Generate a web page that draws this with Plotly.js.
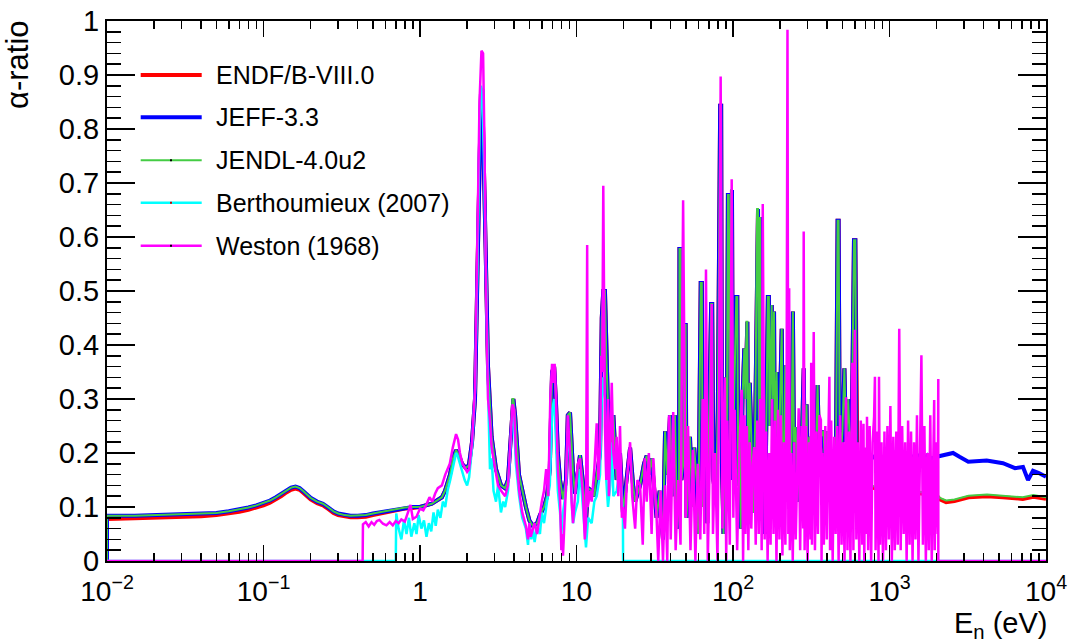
<!DOCTYPE html>
<html><head><meta charset="utf-8">
<script src="https://cdn.plot.ly/plotly-3.0.1.min.js"></script>
<style>html,body{margin:0;padding:0;background:#fff}#chart{width:1069px;height:642px}</style>
</head><body><div id="chart"></div>
<script>
// ---------------- DATA (energies in eV, alpha-ratio values) ----------------
const seriesNames = ["ENDF/B-VIII.0", "JEFF-3.3", "JENDL-4.0u2", "Berthoumieux (2007)", "Weston (1968)"];

// Thermal region (0.01 - 1 eV) of the evaluations
const thermalE     = [0.01,0.01,0.015,0.02,0.03,0.04,0.05,0.06,0.07,0.08,0.09,0.1,0.11,0.12,0.13,0.14,0.15,0.16,0.17,0.18,0.19,0.2,0.22,0.24,0.26,0.28,0.3,0.33,0.36,0.4,0.45,0.5,0.6,0.7,0.8,0.9];
const endfThermal  = [0,0.078,0.079,0.080,0.081,0.083,0.085,0.088,0.091,0.095,0.099,0.103,0.108,0.114,0.120,0.127,0.132,0.134,0.132,0.126,0.120,0.114,0.107,0.103,0.096,0.089,0.085,0.082,0.081,0.081,0.082,0.085,0.090,0.094,0.097,0.098];
const jeffThermal  = [0,0.084,0.084,0.085,0.086,0.088,0.089,0.092,0.095,0.099,0.103,0.107,0.112,0.118,0.124,0.131,0.136,0.138,0.135,0.129,0.123,0.117,0.110,0.106,0.099,0.092,0.088,0.085,0.084,0.084,0.085,0.088,0.092,0.096,0.099,0.100];
const jendlThermal = [0,0.084,0.084,0.085,0.086,0.088,0.089,0.092,0.095,0.099,0.103,0.107,0.112,0.118,0.124,0.131,0.136,0.138,0.135,0.129,0.123,0.117,0.110,0.106,0.099,0.092,0.088,0.085,0.084,0.084,0.085,0.088,0.092,0.096,0.099,0.100];

// Resolved resonance region (1 - 615 eV), common to the three evaluations
const evalResonance = [[1.0,0.100],[1.19,0.106],[1.38,0.118],[1.445,0.13],[1.555,0.16],[1.625,0.19],[1.70,0.205],[1.776,0.195],[1.855,0.18],[1.966,0.172],[2.056,0.178],[2.149,0.22],[2.246,0.30],[2.333,0.55],[2.399,0.78],[2.454,0.87],[2.50,0.87],[2.56,0.76],[2.626,0.58],[2.72,0.36],[2.868,0.23],[3.06,0.17],[3.294,0.14],[3.49,0.135],[3.65,0.15],[3.785,0.22],[3.90,0.30],[3.95,0.30],[4.05,0.27],[4.29,0.16],[4.75,0.10],[5.0,0.075],[5.27,0.065],[5.6,0.07],[5.84,0.085],[6.2,0.10],[6.48,0.12],[6.75,0.17],[6.98,0.35],[7.2,0.36],[7.40,0.29],[7.6,0.20],[7.85,0.15],[8.20,0.115],[8.57,0.15],[8.8,0.27],[9.09,0.275],[9.3,0.20],[9.50,0.165],[9.78,0.125],[10.2,0.17],[10.53,0.196],[11.0,0.145],[11.5,0.075],[11.85,0.135],[12.5,0.13],[13.0,0.12],[13.46,0.16],[14.13,0.2],[14.5,0.45],[14.83,0.50],[15.2,0.50],[15.5,0.38],[15.9,0.28],[16.4,0.17],[16.8,0.22],[17.2,0.27],[18.06,0.15],[18.97,0.20],[19.8,0.09],[20.8,0.15],[22.0,0.21],[23.0,0.14],[23.7,0.11],[25.5,0.14],[27.0,0.18],[28.1,0.195],[29.0,0.16],[30.2,0.19],[31.5,0.12],[32.5,0.08],[34.0,0.13],[35.7,0.04],[36.8,0.24],[38.0,0.16],[39.6,0.27],[41.0,0.12],[42.6,0.27],[44.0,0.06],[45.2,0.12],[45.5,0.578],[46.3,0.578],[46.8,0.15],[48.1,0.18],[49.0,0.437],[49.8,0.437],[50.5,0.08],[53.1,0.23],[55.0,0.10],[56.5,0.21],[58.6,0.146],[60.0,0.05],[61.5,0.30],[62.2,0.515],[63.2,0.515],[64.0,0.10],[66.0,0.22],[67.2,0.30],[68.5,0.07],[70.0,0.20],[72.5,0.476],[73.6,0.476],[75.0,0.15],[77.9,0.113],[80.0,0.28],[82.8,0.843],[84.0,0.843],[85.0,0.18],[87.0,0.05],[89.0,0.34],[91.0,0.12],[92.8,0.678],[94.0,0.678],[95.5,0.20],[97.3,0.687],[98.5,0.687],[100,0.15],[102,0.32],[105,0.489],[106.5,0.489],[108,0.14],[110,0.25],[112,0.06],[115,0.30],[118.1,0.394],[120,0.30],[122,0.443],[123.5,0.443],[125,0.13],[128,0.33],[131.6,0.21],[135,0.09],[139,0.28],[142.5,0.652],[144.5,0.652],[146.5,0.2],[148.8,0.637],[150.5,0.25],[153,0.12],[157,0.27],[160,0.05],[164,0.30],[167,0.489],[169.5,0.489],[171,0.25],[176.8,0.474],[178.5,0.30],[182.9,0.462],[185,0.19],[190,0.35],[195,0.12],[200,0.3],[204.8,0.43],[208,0.20],[213,0.15],[215.6,0.362],[218,0.22],[223,0.13],[228,0.25],[234,0.10],[241.4,0.462],[245,0.22],[251.6,0.248],[258,0.11],[264,0.20],[270,0.12],[276,0.26],[283,0.357],[288,0.15],[295,0.29],[300,0.13],[307,0.23],[316,0.17],[322,0.28],[328,0.20],[336,0.14],[347,0.326],[356,0.19],[365,0.23],[378.6,0.241],[390,0.16],[400,0.24],[413,0.20],[420,0.14],[430.5,0.204],[440,0.18],[455,0.20],[466,0.63],[473,0.63],[480,0.26],[490,0.20],[500,0.24],[515,0.357],[528,0.22],[545,0.30],[560,0.20],[575,0.25],[593,0.594],[605,0.594],[615,0.20]];

// Unresolved region (625 eV - 10 keV)
const jeffHigh  = [[625,0.193],[680,0.188],[740,0.197],[785,0.192],[850,0.199],[900,0.19],[960,0.2],[1052,0.202],[1100,0.189],[1150,0.198],[1219,0.198],[1280,0.188],[1352,0.187],[1450,0.196],[1567,0.195],[1650,0.188],[1750,0.196],[1850,0.19],[2003,0.193],[2300,0.197],[2547,0.2],[2800,0.193],[3187,0.184],[4178,0.186],[5311,0.181],[6339,0.172],[7129,0.174],[7674,0.15],[8260,0.167],[9000,0.163],[10000,0.156]];
const endfHigh  = [[625,0.15],[700,0.14],[800,0.135],[1000,0.13],[1300,0.128],[1600,0.125],[2000,0.121],[2100,0.114],[2300,0.109],[2600,0.111],[3200,0.118],[4200,0.12],[5300,0.118],[6300,0.117],[7100,0.115],[8300,0.119],[10000,0.115]];
const jendlHigh = [[625,0.153],[700,0.143],[800,0.138],[1000,0.133],[1300,0.131],[1600,0.128],[2000,0.124],[2100,0.117],[2300,0.112],[2600,0.114],[3200,0.121],[4200,0.123],[5300,0.121],[6300,0.12],[7100,0.118],[8300,0.122],[10000,0.118]];

// Berthoumieux (2007)
const berthoumieux = [[0.01,0],[0.70,0],[0.705,0.088],[0.73,0.06],[0.76,0.04],[0.79,0.075],[0.82,0.05],[0.85,0.08],[0.88,0.045],[0.92,0.07],[0.95,0.05],[0.98,0.085],[1.02,0.06],[1.06,0.075],[1.1,0.045],[1.14,0.07],[1.18,0.055],[1.22,0.09],[1.26,0.065],[1.3,0.095],[1.35,0.08],[1.4,0.11],[1.45,0.1],[1.5,0.13],[1.56,0.15],[1.62,0.175],[1.7,0.20],[1.74,0.195],[1.8,0.18],[1.86,0.17],[1.93,0.15],[2.0,0.14],[2.06,0.155],[2.15,0.21],[2.25,0.32],[2.33,0.55],[2.40,0.80],[2.45,0.88],[2.5,0.87],[2.56,0.75],[2.63,0.55],[2.72,0.32],[2.8,0.17],[2.87,0.19],[2.95,0.13],[3.06,0.11],[3.15,0.14],[3.29,0.09],[3.4,0.11],[3.5,0.10],[3.65,0.13],[3.78,0.22],[3.9,0.28],[4.0,0.25],[4.1,0.18],[4.3,0.12],[4.5,0.08],[4.75,0.06],[4.9,0.03],[5.0,0.07],[5.15,0.04],[5.27,0.06],[5.4,0.035],[5.6,0.065],[5.84,0.05],[6.0,0.09],[6.2,0.07],[6.48,0.11],[6.75,0.14],[7.0,0.28],[7.2,0.30],[7.4,0.22],[7.6,0.13],[7.85,0.09],[8.0,0.05],[8.2,0.09],[8.57,0.13],[8.8,0.24],[9.09,0.2],[9.3,0.12],[9.5,0.07],[9.78,0.09],[10.2,0.11],[10.53,0.17],[11.0,0.10],[11.5,0.025],[11.85,0.08],[12.5,0.07],[13.0,0.11],[13.46,0.12],[14.13,0.16],[14.5,0.30],[14.83,0.34],[15.2,0.30],[15.5,0.15],[15.9,0.1],[16.4,0.14],[16.8,0.22],[17.2,0.12],[18.06,0.13],[18.97,0.17],[19.5,0.10],[19.8,0.08],[19.85,0],[10000,0]];

// Weston (1968)
const weston = [[0.01,0],[0.43,0],[0.432,0.068],[0.45,0.072],[0.47,0.064],[0.49,0.072],[0.51,0.067],[0.53,0.074],[0.55,0.076],[0.58,0.069],[0.61,0.066],[0.64,0.072],[0.67,0.066],[0.70,0.074],[0.73,0.07],[0.76,0.077],[0.80,0.073],[0.84,0.09],[0.87,0.104],[0.9,0.078],[0.95,0.082],[1.0,0.097],[1.05,0.094],[1.1,0.105],[1.15,0.118],[1.2,0.11],[1.25,0.125],[1.3,0.135],[1.38,0.14],[1.45,0.16],[1.55,0.18],[1.62,0.21],[1.70,0.235],[1.75,0.225],[1.8,0.2],[1.87,0.18],[1.95,0.17],[2.0,0.165],[2.06,0.17],[2.15,0.22],[2.25,0.32],[2.33,0.6],[2.40,0.85],[2.47,0.945],[2.53,0.94],[2.58,0.78],[2.63,0.55],[2.72,0.30],[2.8,0.26],[2.87,0.21],[3.0,0.18],[3.15,0.14],[3.3,0.13],[3.5,0.12],[3.65,0.14],[3.78,0.23],[3.9,0.29],[4.0,0.28],[4.1,0.2],[4.3,0.13],[4.5,0.09],[4.75,0.065],[4.9,0.04],[5.0,0.07],[5.1,0.045],[5.27,0.06],[5.4,0.07],[5.6,0.05],[5.84,0.09],[6.0,0.11],[6.2,0.13],[6.4,0.17],[6.6,0.12],[6.8,0.30],[6.98,0.365],[7.1,0.33],[7.25,0.365],[7.4,0.30],[7.6,0.17],[7.85,0.11],[8.0,0.02],[8.1,0.05],[8.2,0.01],[8.4,0.09],[8.57,0.14],[8.8,0.27],[9.09,0.20],[9.3,0.11],[9.5,0.07],[9.78,0.12],[10.2,0.18],[10.53,0.19],[11.0,0.12],[11.3,0.04],[11.5,0.07],[11.7,0.585],[11.8,0.10],[12.2,0.13],[12.5,0.11],[13.0,0.17],[13.46,0.255],[13.8,0.15],[14.13,0.21],[14.4,0.38],[14.6,0.35],[14.83,0.695],[15.0,0.45],[15.2,0.25],[15.5,0.15],[15.9,0.30],[16.1,0.12],[16.4,0.20],[16.8,0.33],[17.2,0.2],[17.6,0.17],[18.06,0.23],[18.5,0.12],[18.97,0.25],[19.5,0.08],[19.8,0.1],[20.4,0.06],[21.0,0.15],[22.0,0.22],[22.7,0.12],[23.7,0.06],[24.5,0.15],[25.5,0.14],[26.5,0.03],[27.3,0.19],[28.1,0.11],[29.0,0.20],[30.2,0.05],[31.0,0.19],[32.5,0.08],[33.3,0.0],[34.5,0.13],[35.7,0.0],[36.8,0.14],[38.0,0.0],[39.0,0.27],[40,0.04],[41.5,0.276],[43,0.02],[44.6,0.15],[46.2,0.03],[48,0.668],[49.8,0.08],[51.6,0.25],[53.5,0.02],[55.5,0.206],[57.5,0.0],[59.6,0.18],[61.8,0.04],[64,0.30],[65.5,0.05],[67.2,0.54],[69,0.0],[71.4,0.22],[73.1,0.476],[74.5,0.05],[76.8,0.20],[79.6,0.0],[81.5,0.32],[83.4,0.897],[85.6,0.06],[88.7,0.34],[90.5,0.0],[92,0.26],[95.4,0.03],[98.1,0.707],[100.5,0.08],[102.5,0.28],[106.3,0.02],[110.2,0.22],[113.7,0.317],[116,0.0],[118.5,0.27],
 [120,0.05],[122.6,0.25],[125.3,0.02],[128,0.22],[130.9,0.06],[133.8,0.18],[136.7,0.211],[139.7,0.03],[142.8,0.26],[146,0.05],[149.2,0.30],[152.5,0.02],[154.9,0.661],[159.3,0.04],[162.8,0.24],[166.4,0.0],[170,0.2],[173.8,0.03],[177.6,0.30],[181.5,0.05],[185.5,0.26],[189.6,0.0],[193.8,0.28],[198,0.04],[202.4,0.27],[206.9,0.01],[211.4,0.22],[216.1,0.03],[220,0.30],[222.9,0.984],[225.7,0.05],[228.5,0.505],[230.7,0.02],[235.7,0.2],[240.9,0.0],[246.2,0.22],[251.6,0.04],[257.2,0.2],[262.8,0.283],[268.6,0.02],[274.5,0.25],[280.6,0.06],[283,0.61],[286.8,0.02],[293.1,0.25],[299.5,0.0],[306.1,0.22],[312.8,0.04],[316,0.367],[319.7,0.03],[324,0.18],[328,0.424],[333.9,0.02],[341.3,0.24],[348.8,0.05],[356.5,0.27],[364.3,0.261],[368,0.0],[372.3,0.2],[380.5,0.03],[388.9,0.25],[397.4,0.04],[406.2,0.22],[413,0.341],[417,0.02],[424.2,0.26],[433.5,0.0],[443.1,0.23],[452.8,0.05],[462.8,0.25],[473,0.0],[483.4,0.27],[494,0.03],[504.9,0.22],[516,0.0],[527.3,0.303],[538.9,0.02],[550.8,0.24],[562.9,0.0],[570,0.26],[579,0.367],[587.9,0.02],[600.9,0.428],[614.1,0.04],[627.6,0.22],[641.4,0.0],[655.5,0.26],[669.9,0.03],[682,0.254],[690,0.0],[699.7,0.21],[715.1,0.05],[718,0.267],[730.8,0.02],[746.9,0.25],[763.3,0.0],[780.1,0.22],[797.3,0.267],[807,0.341],[814.8,0.02],[832.7,0.24],[851,0.0],[857,0.341],[869.8,0.03],[888.9,0.22],[908.5,0.0],[928.5,0.24],[948.9,0.02],[969.8,0.25],[991.1,0.04],[1013,0.287],[1035,0.0],[1058,0.23],[1081,0.02],[1105,0.24],[1129,0.03],[1154,0.43],[1179,0.02],[1205,0.25],[1232,0.05],[1259,0.22],[1287,0.0],[1315,0.26],[1344,0.03],[1373,0.24],[1404,0.0],[1435,0.22],[1466,0.04],[1498,0.27],[1531,0.0],[1565,0.24],[1599,0.381],[1635,0.03],[1671,0.25],[1707,0.0],[1745,0.2],[1783,0.02],[1822,0.27],[1862,0.0],[1903,0.23],[1930,0.298],[1945,0.02],[1988,0.22],[2032,0.05],[2050,0.337],[2051,0.0],[10000,0]];

// ---------------- BUILD TRACES ----------------
const xs = a => a.map(p => p[0]);
const ys = a => a.map(p => p[1]);
const resE = xs(evalResonance), resY = ys(evalResonance);

function evalTrace(thY, high, color, width, name) {
  return {
    type: 'scatter', mode: 'lines', name: name, showlegend: false, hoverinfo: 'skip',
    x: thermalE.concat(resE, xs(high)),
    y: thY.concat(resY, ys(high)),
    line: {color: color, width: width}
  };
}

const colors = ['#ff0000', '#0000ff', '#44cc44', '#00ffff', '#ff00ff'];
const widths = [4, 4, 2, 2.5, 2.5];

const traces = [
  evalTrace(endfThermal, endfHigh, colors[0], widths[0], seriesNames[0]),
  evalTrace(jeffThermal, jeffHigh, colors[1], widths[1], seriesNames[1]),
  evalTrace(jendlThermal, jendlHigh, colors[2], widths[2], seriesNames[2]),
  {type:'scatter', mode:'lines', name: seriesNames[3], showlegend:false, hoverinfo:'skip',
   x: xs(berthoumieux), y: ys(berthoumieux), line:{color: colors[3], width: widths[3]}},
  {type:'scatter', mode:'lines', name: seriesNames[4], showlegend:false, hoverinfo:'skip',
   x: xs(weston), y: ys(weston), line:{color: colors[4], width: widths[4]}},
  // empty trace that only carries the minor-tick x axis
  {type:'scatter', mode:'lines', x: [], y: [], xaxis:'x2', yaxis:'y', showlegend:false, hoverinfo:'skip'}
];

// minor tick positions on the log axis (axis decoration only)
const minorX = [];
for (let d = -2; d < 4; d++) for (let m = 2; m <= 9; m++) minorX.push(m * Math.pow(10, d));

// ---------------- LAYOUT ----------------
const FONT = 'Liberation Sans, Arial, Helvetica, sans-serif';
const PX = 939, PY = 540; // plot area size in px
const legendRows = [75, 117.3, 160.3, 202.7, 245.7];
const plotTop = 21, plotLeft = 107;
const shapes = [], annotations = [];
legendRows.forEach((row, i) => {
  const yp = 1 - (row - plotTop) / PY;
  shapes.push({type:'line', xref:'paper', yref:'paper',
    x0: (140.7 - plotLeft) / PX, x1: (201.7 - plotLeft) / PX, y0: yp, y1: yp,
    line:{color: colors[i], width: widths[i]}});
  if (i >= 2) {
    const cx = (171 - plotLeft) / PX;
    shapes.push({type:'rect', xref:'paper', yref:'paper',
      x0: cx - 1 / PX, x1: cx + 1 / PX, y0: yp - 1 / PY, y1: yp + 1 / PY,
      fillcolor: i === 3 ? '#cc0000' : '#000000', line:{width:0}});
  }
  annotations.push({xref:'paper', yref:'paper', x: (214 - plotLeft) / PX, y: yp,
    xanchor:'left', yanchor:'middle', showarrow:false, text: seriesNames[i],
    font:{family: FONT, size: 25, color:'#000'}});
});
annotations.push({xref:'paper', yref:'paper', x: 0, y: 1, xanchor:'right', yanchor:'top',
  xshift: -70, yshift: 3, textangle: -90, showarrow:false, text:'α-ratio',
  font:{family: FONT, size: 31, color:'#000'}});
annotations.push({xref:'paper', yref:'paper', x: 1, y: 0, xanchor:'right', yanchor:'top',
  xshift: 3, yshift: -44, showarrow:false, text:'E<sub>n</sub> (eV)',
  font:{family: FONT, size: 29, color:'#000'}});

const layout = {
  width: 1069, height: 642,
  margin: {l: 107, r: 23, t: 21, b: 81},
  paper_bgcolor: '#fff', plot_bgcolor: '#fff',
  showlegend: false,
  font: {family: FONT, color: '#000'},
  xaxis: {
    type: 'log', range: [-2, 4], tickmode: 'linear', tick0: 0, dtick: 1,
    exponentformat: 'power', ticklabelstandoff: 5,
    tickfont: {family: FONT, size: 22.5, color: '#000'},
    ticks: 'inside', ticklen: 16, tickwidth: 1.5, tickcolor: '#000', mirror: 'ticks',
    showline: true, linecolor: '#000', linewidth: 2, showgrid: false, zeroline: false
  },
  xaxis2: {
    type: 'log', range: [-2, 4], overlaying: 'x', anchor: 'y', side: 'bottom',
    tickmode: 'array', tickvals: minorX, showticklabels: false,
    ticks: 'inside', ticklen: 8, tickwidth: 1.5, tickcolor: '#000', mirror: 'ticks',
    showline: false, showgrid: false, zeroline: false
  },
  yaxis: {
    range: [0, 1], tickmode: 'linear', tick0: 0, dtick: 0.1,
    tickfont: {family: FONT, size: 29, color: '#000'},
    ticks: 'inside', ticklen: 28, tickwidth: 1.5, tickcolor: '#000', mirror: 'ticks',
    showline: true, linecolor: '#000', linewidth: 2, showgrid: false, zeroline: false,
    minor: {ticks: 'inside', ticklen: 14, tickwidth: 1.5, tickcolor: '#000', dtick: 0.02, showgrid: false}
  },
  shapes: shapes,
  annotations: annotations
};

Plotly.newPlot('chart', traces, layout, {staticPlot: true, displayModeBar: false});
</script></body></html>
